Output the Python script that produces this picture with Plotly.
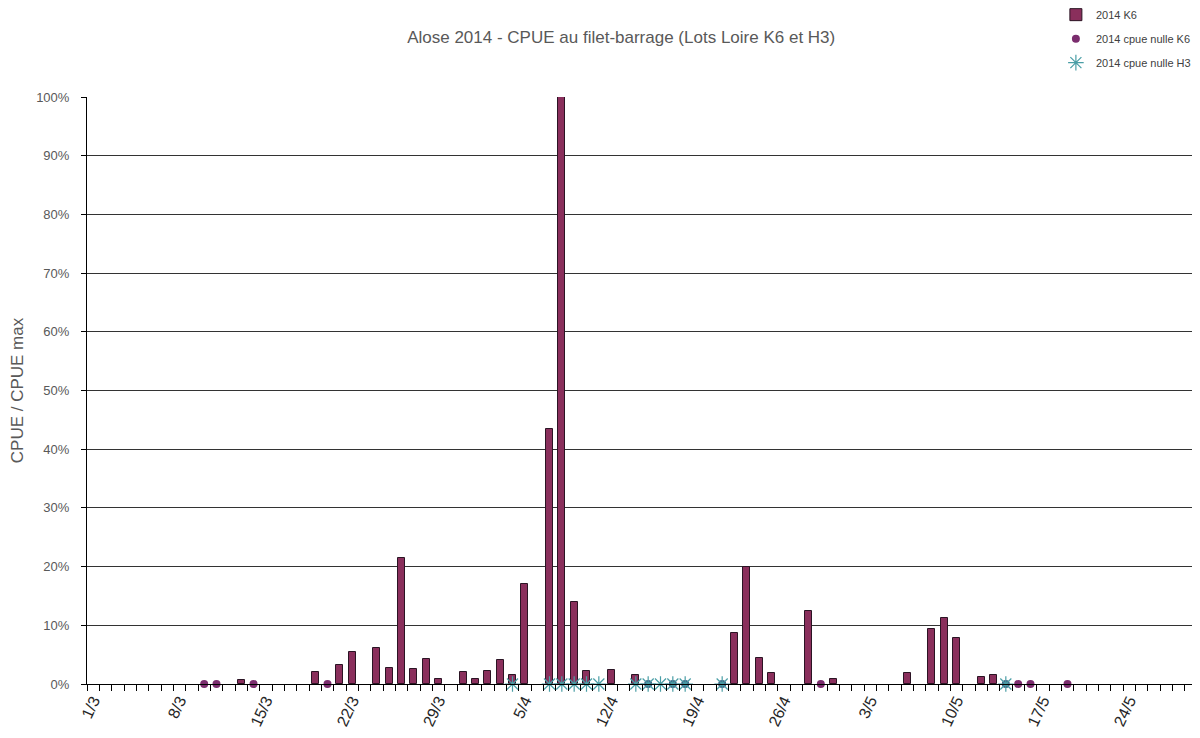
import plotly.graph_objects as go

# CPUE / CPUE max, 2014 K6 (days with a catch)
k6_dates = [
    "2014-03-13", "2014-03-19", "2014-03-21", "2014-03-22", "2014-03-24",
    "2014-03-25", "2014-03-26", "2014-03-27", "2014-03-28", "2014-03-29",
    "2014-03-31", "2014-04-01", "2014-04-02", "2014-04-03", "2014-04-04",
    "2014-04-05", "2014-04-07", "2014-04-08", "2014-04-09", "2014-04-10",
    "2014-04-12", "2014-04-14", "2014-04-22", "2014-04-23", "2014-04-24",
    "2014-04-25", "2014-04-28", "2014-04-30", "2014-05-06", "2014-05-08",
    "2014-05-09", "2014-05-10", "2014-05-12", "2014-05-13",
]
k6_values = [
    0.007, 0.021, 0.033, 0.054, 0.061,
    0.027, 0.214, 0.025, 0.042, 0.009,
    0.021, 0.009, 0.023, 0.041, 0.015,
    0.170, 0.434, 1.000, 0.139, 0.023,
    0.024, 0.016, 0.087, 0.200, 0.045,
    0.019, 0.124, 0.009, 0.019, 0.094,
    0.112, 0.078, 0.012, 0.015,
]

# days with zero CPUE
k6_null_dates = [
    "2014-03-10", "2014-03-11", "2014-03-14", "2014-03-20", "2014-04-15",
    "2014-04-17", "2014-04-18", "2014-04-21", "2014-04-29", "2014-05-14",
    "2014-05-15", "2014-05-16", "2014-05-19",
]
h3_null_dates = [
    "2014-04-04", "2014-04-07", "2014-04-08", "2014-04-09", "2014-04-10",
    "2014-04-11", "2014-04-14", "2014-04-15", "2014-04-16", "2014-04-17",
    "2014-04-18", "2014-04-21", "2014-05-14",
]

BAR_COLOR = '#8a2f5c'
DOT_COLOR = '#7b2d6e'
STAR_COLOR = '#4a9ea6'
TEXT_GREY = '#595959'
DAY_MS = 86400000

# dots that sit under an H3 star look blue in the original
dot_colors = ['#3d5a80' if d in h3_null_dates else DOT_COLOR for d in k6_null_dates]

fig = go.Figure()

fig.add_trace(go.Bar(
    x=k6_dates, y=k6_values,
    width=0.56 * DAY_MS,
    marker=dict(color=BAR_COLOR, line=dict(color='#2b1424', width=1)),
    name='2014 K6', legendgroup='a',
))

fig.add_trace(go.Scatter(
    x=k6_null_dates, y=[0] * len(k6_null_dates),
    mode='markers',
    marker=dict(symbol='circle', size=8, color=dot_colors),
    cliponaxis=False,
    name='2014 cpue nulle K6', legendgroup='b',
))

fig.add_trace(go.Scatter(
    x=h3_null_dates, y=[0] * len(h3_null_dates),
    mode='markers',
    marker=dict(symbol='asterisk-open', size=13, color=STAR_COLOR,
                line=dict(color=STAR_COLOR, width=1.2)),
    cliponaxis=False,
    name='2014 cpue nulle H3', legendgroup='c',
))

# the page is drawn with an 8px body offset, margins below account for it
fig.update_layout(
    width=1200, height=738,
    margin=dict(l=79, r=11, t=89, b=62, autoexpand=False),
    paper_bgcolor='white', plot_bgcolor='white',
    font=dict(family='Liberation Sans, Arial, sans-serif', color=TEXT_GREY),
    title=dict(
        text='Alose 2014 - CPUE au filet-barrage (Lots Loire K6 et H3)',
        x=0.511, xref='container', xanchor='center',
        y=1 - 29 / 738, yref='container', yanchor='middle',
        font=dict(size=17, color=TEXT_GREY),
    ),
    bargap=0,
    showlegend=True,
    legend=dict(
        x=0.999, xanchor='right', y=1.165, yanchor='top',
        font=dict(size=11, color='#404040'),
        traceorder='grouped', tracegroupgap=5,
        itemwidth=30, bgcolor='rgba(0,0,0,0)',
    ),
    xaxis=dict(
        type='date', automargin=False,
        range=['2014-02-28 12:00', '2014-05-29 12:00'],
        tick0='2014-03-01', dtick=7 * DAY_MS, tickformat='%-d/%-m',
        tickangle=-65, ticks='',
        tickfont=dict(size=16, color='#262626'),
        showgrid=False, showline=True, linecolor='black', linewidth=1,
        minor=dict(tick0='2014-02-28 12:00', dtick=DAY_MS, ticks='outside',
                   ticklen=6, tickcolor='black', tickwidth=1, showgrid=False),
        zeroline=False,
    ),
    yaxis=dict(
        range=[0, 1], dtick=0.1, tickformat='.0%', automargin=False,
        tickfont=dict(size=13, color=TEXT_GREY),
        ticks='outside', ticklen=5, tickcolor='black', ticklabelstandoff=9,
        showgrid=True, gridcolor='#333333', gridwidth=1.2,
        showline=True, linecolor='black', linewidth=1,
        zeroline=False,
        title=dict(text='CPUE / CPUE max', font=dict(size=17, color=TEXT_GREY),
                   standoff=14),
    ),
)

fig.write_html("out.html")
